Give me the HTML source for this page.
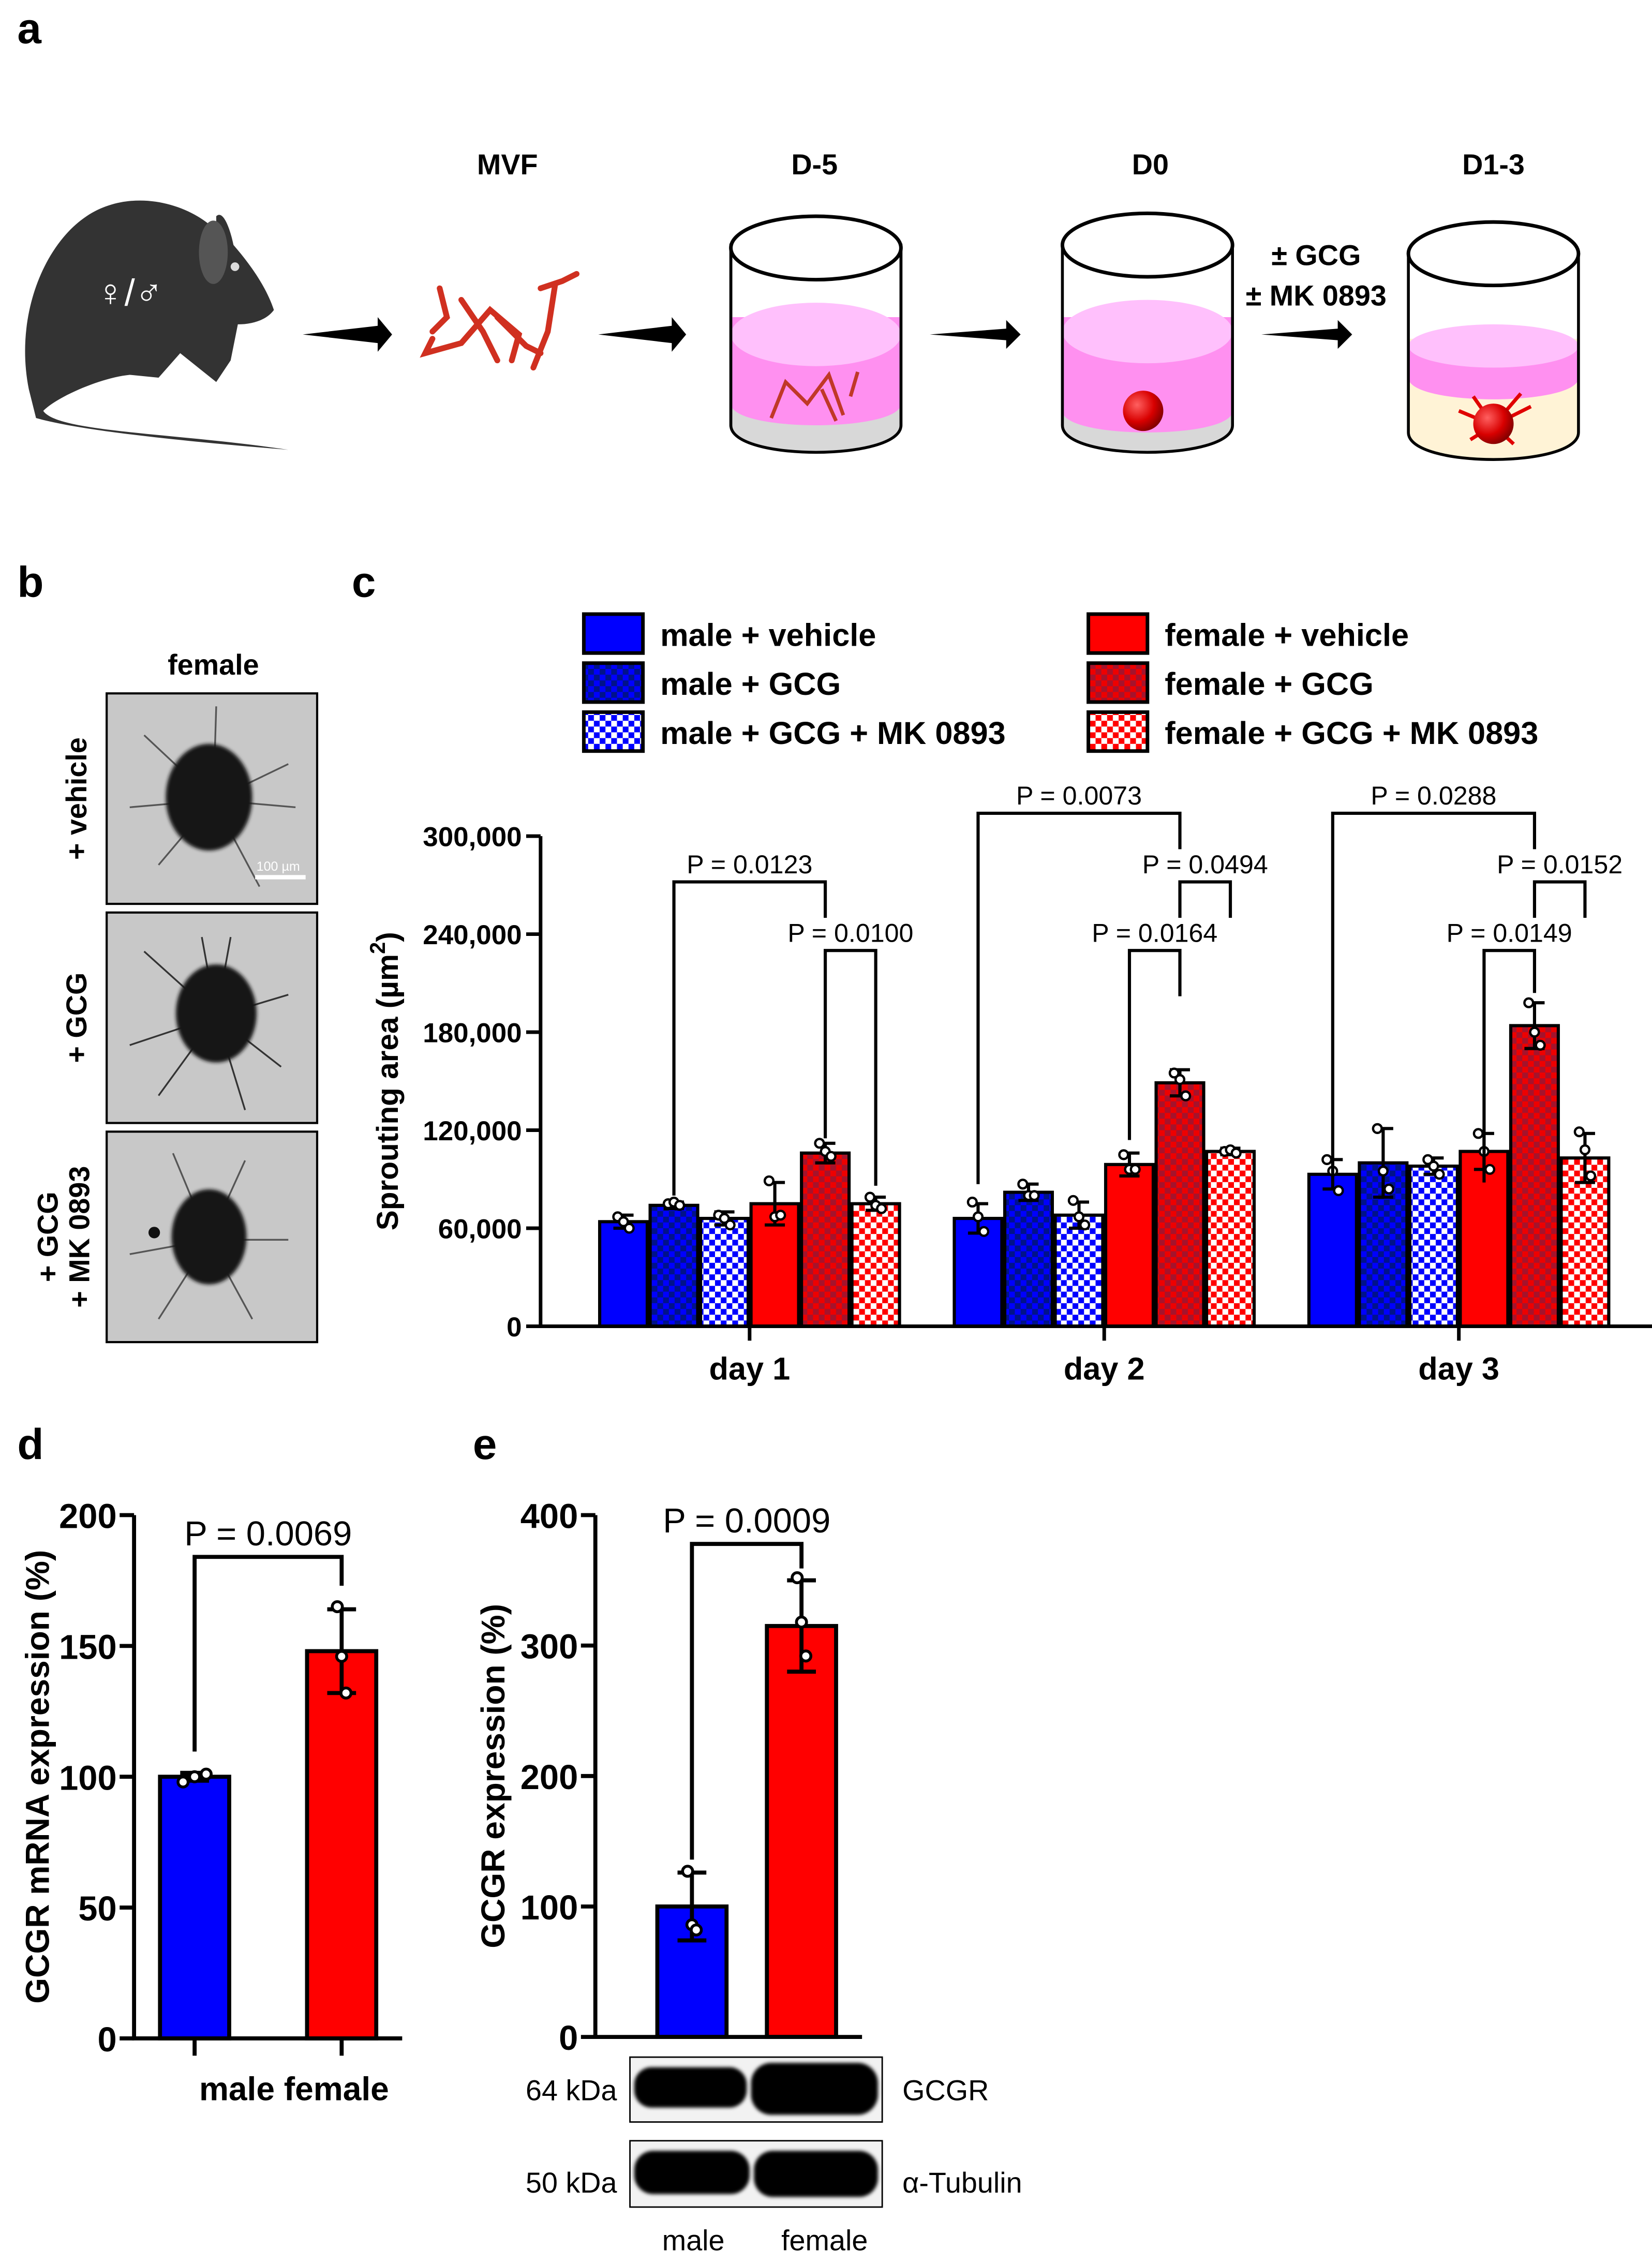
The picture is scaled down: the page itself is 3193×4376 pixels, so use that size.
<!DOCTYPE html>
<html><head><meta charset="utf-8">
<style>
html,body{margin:0;padding:0;background:#fff;}
svg{display:block;}
text{font-family:"Liberation Sans",Arial,sans-serif;}
.b{font-weight:bold;}
</style></head>
<body>
<svg id="fig" xmlns="http://www.w3.org/2000/svg" width="3193" height="4376" viewBox="0 0 1146 1570.5" preserveAspectRatio="none">
<defs>
<pattern id="pBlueDark" width="8" height="8" patternUnits="userSpaceOnUse"><rect width="8" height="8" fill="#0000ff"/><rect width="4" height="4" fill="#00128a"/><rect x="4" y="4" width="4" height="4" fill="#00128a"/></pattern>
<pattern id="pBlueWhite" width="8" height="8" patternUnits="userSpaceOnUse"><rect width="8" height="8" fill="#fff"/><rect width="4" height="4" fill="#0000ff"/><rect x="4" y="4" width="4" height="4" fill="#0000ff"/></pattern>
<pattern id="pRedDark" width="8" height="8" patternUnits="userSpaceOnUse"><rect width="8" height="8" fill="#ee0000"/><rect width="4" height="4" fill="#a5132c"/><rect x="4" y="4" width="4" height="4" fill="#a5132c"/></pattern>
<pattern id="pRedWhite" width="8" height="8" patternUnits="userSpaceOnUse"><rect width="8" height="8" fill="#fff"/><rect width="4" height="4" fill="#ff0000"/><rect x="4" y="4" width="4" height="4" fill="#ff0000"/></pattern>
<radialGradient id="sph" cx="0.35" cy="0.35" r="0.7"><stop offset="0" stop-color="#ff6060"/><stop offset="0.6" stop-color="#d80000"/><stop offset="1" stop-color="#800000"/></radialGradient>
<filter id="blur"><feGaussianBlur stdDeviation="1.2"/></filter>
</defs>

<!-- panel labels -->
<text x="12" y="30" font-size="30" class="b">a</text>
<text x="12" y="414" font-size="30" class="b">b</text>
<text x="244" y="414" font-size="30" class="b">c</text>
<text x="12" y="1012" font-size="30" class="b">d</text>
<text x="328" y="1012" font-size="30" class="b">e</text>

<!-- Panel a schematic -->
<g>
<path d="M20,270 C10,220 30,170 60,150 C90,130 130,140 150,160 L150,150 C155,145 160,160 162,170 C175,185 185,200 190,215 C185,222 175,225 165,225 L160,250 L150,265 L125,245 L110,262 L90,260 C70,262 40,275 30,285 C40,300 120,300 200,312 C150,308 60,300 25,290 Z" fill="#333"/>
<ellipse cx="148" cy="175" rx="10" ry="22" fill="#555"/>
<circle cx="163" cy="185" r="3" fill="#ddd"/>
<text x="90" y="212" font-size="26" fill="#fff" text-anchor="middle">♀/♂</text>
</g>
<g>
<text x="352" y="121" font-size="20" class="b" text-anchor="middle">MVF</text>
<text x="565" y="121" font-size="20" class="b" text-anchor="middle">D-5</text>
<text x="798" y="121" font-size="20" class="b" text-anchor="middle">D0</text>
<text x="1036" y="121" font-size="20" class="b" text-anchor="middle">D1-3</text>
<text x="913" y="184" font-size="20" class="b" text-anchor="middle">± GCG</text>
<text x="913" y="212" font-size="20" class="b" text-anchor="middle">± MK 0893</text>
</g>
<g fill="#000">
<path d="M210,232 L262,226 L262,220 L272,232 L262,244 L262,238 Z"/>
<path d="M415,232 L466,226 L466,220 L476,232 L466,244 L466,238 Z"/>
<path d="M645,232 L698,228 L698,222 L708,232 L698,242 L698,236 Z"/>
<path d="M875,232 L928,228 L928,222 L938,232 L928,242 L928,236 Z"/>
</g>
<g stroke="#d03020" stroke-width="4" fill="none" stroke-linecap="round">
<path d="M300,235 L295,245 L320,238 L340,215 L360,232 L355,250"/>
<path d="M305,200 L310,220 L300,230"/><path d="M320,208 L335,230 L345,250"/>
<path d="M385,198 L380,230 L370,255"/><path d="M375,200 L390,195 L400,190"/>
<path d="M345,220 L365,240 L375,245"/>
</g>
<g>
<rect x="507" y="170" width="118" height="125" fill="#fff" stroke="#000" stroke-width="2"/>
<path d="M507,220 L625,220 L625,295 C625,320 507,320 507,295 Z" fill="#ff90f0"/>
<path d="M507,280 L625,280 L625,295 C625,320 507,320 507,295 Z" fill="#d8d8d8"/>
<path d="M507,280 C507,300 625,300 625,280 L625,270 L507,270Z" fill="#ff90f0"/>
<ellipse cx="566" cy="232" rx="59" ry="22" fill="#ffc0fc"/>
<path d="M507,170 L507,295 C507,320 625,320 625,295 L625,170" fill="none" stroke="#000" stroke-width="2"/>
<ellipse cx="566" cy="172" rx="59" ry="22" fill="#fff" stroke="#000" stroke-width="2.5"/>
<path d="M535,290 L545,265 L560,280 L575,260 L585,288 M595,258 L590,275 M570,270 L580,292" stroke="#c03828" stroke-width="2.5" fill="none"/>
</g>
<g>
<rect x="737" y="170" width="118" height="125" fill="#fff"/>
<path d="M737,220 L855,220 L855,295 C855,320 737,320 737,295 Z" fill="#ff90f0"/>
<path d="M737,285 L855,285 L855,295 C855,320 737,320 737,295 Z" fill="#d8d8d8"/>
<path d="M737,285 C737,305 855,305 855,285 L855,270 L737,270Z" fill="#ff90f0"/>
<ellipse cx="796" cy="230" rx="59" ry="22" fill="#ffc0fc"/>
<path d="M737,170 L737,295 C737,320 855,320 855,295 L855,170" fill="none" stroke="#000" stroke-width="2"/>
<ellipse cx="796" cy="170" rx="59" ry="22" fill="#fff" stroke="#000" stroke-width="2.5"/>
<ellipse cx="793" cy="285" rx="14" ry="14" fill="url(#sph)"/>
</g>
<g>
<rect x="977" y="175" width="118" height="125" fill="#fff"/>
<path d="M977,235 L1095,235 L1095,300 C1095,325 977,325 977,300 Z" fill="#fff3d6"/>
<path d="M977,240 L1095,240 L1095,262 C1095,282 977,282 977,262 Z" fill="#ff90f0"/>
<ellipse cx="1036" cy="240" rx="59" ry="15" fill="#ffc0fc"/>
<path d="M977,175 L977,300 C977,325 1095,325 1095,300 L1095,175" fill="none" stroke="#000" stroke-width="2"/>
<ellipse cx="1036" cy="176" rx="59" ry="22" fill="#fff" stroke="#000" stroke-width="2.5"/>
<path d="M1036,295 L1020,305 M1036,295 L1050,308 M1036,295 L1012,285 M1036,295 L1062,282 M1036,295 L1022,275 M1036,295 L1055,273" stroke="#e00000" stroke-width="2.5"/>
<circle cx="1036" cy="294" r="14" fill="url(#sph)"/>
</g>

<!-- Panel b -->
<text x="148" y="468" font-size="20" class="b" text-anchor="middle">female</text>
<g>
<rect x="74" y="481" width="146" height="146" fill="#c8c8c8" stroke="#000" stroke-width="1.5"/>
<g stroke="#555" stroke-width="1.2"><path d="M148,555 L100,510 M148,555 L200,530 M148,555 L110,600 M148,555 L180,615 M148,555 L205,560 M148,555 L150,490 M148,555 L90,560"/></g>
<ellipse cx="145" cy="553" rx="30" ry="37" fill="#151515" filter="url(#blur)"/>
<text x="193" y="604" font-size="9" fill="#fff" text-anchor="middle">100 µm</text>
<rect x="177" y="607" width="35" height="3" fill="#fff"/>
</g>
<g>
<rect x="74" y="633" width="146" height="146" fill="#c8c8c8" stroke="#000" stroke-width="1.5"/>
<g stroke="#333" stroke-width="1.2"><path d="M150,705 L100,660 M150,705 L160,650 M150,705 L90,725 M150,705 L110,760 M150,705 L170,770 M150,705 L200,690 M150,705 L195,740 M150,705 L140,650"/></g>
<ellipse cx="150" cy="703" rx="28" ry="34" fill="#151515" filter="url(#blur)"/>
</g>
<g>
<rect x="74" y="785" width="146" height="146" fill="#c8c8c8" stroke="#000" stroke-width="1.5"/>
<g stroke="#555" stroke-width="1.2"><path d="M145,860 L120,800 M145,860 L170,805 M145,860 L90,870 M145,860 L110,915 M145,860 L175,915 M145,860 L200,860"/></g>
<ellipse cx="145" cy="858" rx="26" ry="33" fill="#151515" filter="url(#blur)"/>
<circle cx="107" cy="855" r="4" fill="#111"/>
</g>
<g font-size="20" class="b">
<text transform="translate(60,554) rotate(-90)" text-anchor="middle" class="b">+ vehicle</text>
<text transform="translate(60,706) rotate(-90)" text-anchor="middle" class="b">+ GCG</text>
<text transform="translate(40,858) rotate(-90)" text-anchor="middle" class="b">+ GCG</text>
<text transform="translate(62,858) rotate(-90)" text-anchor="middle" class="b">+ MK 0893</text>
</g>

<g id="legend"></g>
<g id="chartC"></g>
<g id="chartD"></g>
<g id="chartE"></g>

<!-- western blot -->
<g>
<rect x="437" y="1427" width="175" height="45" fill="#f2f2f2" stroke="#000" stroke-width="1"/>
<rect x="440" y="1434" width="78" height="28" rx="12" fill="#000" filter="url(#blur)"/>
<rect x="521" y="1431" width="88" height="36" rx="14" fill="#000" filter="url(#blur)"/>
<rect x="437" y="1485" width="175" height="46" fill="#f2f2f2" stroke="#000" stroke-width="1"/>
<rect x="440" y="1492" width="80" height="30" rx="13" fill="#000" filter="url(#blur)"/>
<rect x="523" y="1492" width="86" height="32" rx="13" fill="#000" filter="url(#blur)"/>
<text x="428" y="1457" font-size="20" text-anchor="end">64 kDa</text>
<text x="428" y="1521" font-size="20" text-anchor="end">50 kDa</text>
<text x="626" y="1457" font-size="20">GCGR</text>
<text x="626" y="1521" font-size="20">α-Tubulin</text>
<text x="481" y="1561" font-size="20" text-anchor="middle">male</text>
<text x="572" y="1561" font-size="20" text-anchor="middle">female</text>
</g>
</svg>

<script>
const NS="http://www.w3.org/2000/svg";
// ---- Panel c data ----
const days=["day 1","day 2","day 3"];
const groups=["male + vehicle","male + GCG","male + GCG + MK 0893","female + vehicle","female + GCG","female + GCG + MK 0893"];
const meansDay1=[64000,74000,66000,75000,106000,75000];
const meansDay2=[66000,82000,68000,99000,149000,107000];
const meansDay3=[93000,100000,98000,107000,184000,103000];
const sdDay1=[4000,2000,4000,13000,6000,4000];
const sdDay2=[9000,5000,8000,7000,8000,2000];
const sdDay3=[9000,21000,5000,11000,14000,15000];
const ptsDay1=[[67000,64000,60000],[75000,76000,74000],[68000,66000,62000],[89000,67000,68000],[112000,107000,104000],[79000,74000,72000]];
const ptsDay2=[[76000,67000,58000],[87000,80000,80000],[77000,67000,62000],[105000,96000,96000],[155000,151000,141000],[107000,108000,106000]];
const ptsDay3=[[102000,95000,83000],[121000,95000,84000],[102000,98000,93000],[118000,107000,96000],[198000,180000,172000],[119000,108000,92000]];
const yTicksC=[0,60000,120000,180000,240000,300000];
const yTickLabelsC=["0","60,000","120,000","180,000","240,000","300,000"];
const bracketsC=[[0,1,4,"P = 0.0123",272000,80000,250000],[0,4,5,"P = 0.0100",230000,115000,86000],
 [1,0,4,"P = 0.0073",314000,87000,292000],[1,4,5,"P = 0.0494",272000,250000,250000],[1,3,4,"P = 0.0164",230000,114000,202000],
 [2,0,4,"P = 0.0288",314000,92000,292000],[2,4,5,"P = 0.0152",272000,250000,250000],[2,3,4,"P = 0.0149",230000,88000,204000]];
const fills=["#0000ff","url(#pBlueDark)","url(#pBlueWhite)","#ff0000","url(#pRedDark)","url(#pRedWhite)"];

// ---- Panel d data ----
const catsD=["male","female"];
const meansD=[100,148];
const sdD=[1.5,16];
const ptsD=[[98,100,101],[165,146,132]];
const yTicksD=[0,50,100,150,200];
// ---- Panel e data ----
const catsE=["male","female"];
const meansE=[100,315];
const sdE=[26,35];
const ptsE=[[127,86,82],[352,318,292]];
const yTicksE=[0,100,200,300,400];

function el(tag,attrs,parent,txt){const e=document.createElementNS(NS,tag);for(const k in attrs)e.setAttribute(k,attrs[k]);if(txt!==undefined)e.textContent=txt;parent.appendChild(e);return e;}

const leg=document.getElementById('legend');
groups.forEach((g,i)=>{
  const col=Math.floor(i/3),row=i%3;
  const x=col?755:405,y=426+row*34;
  const r=el('rect',{x:x,y:y,width:41,height:27,fill:fills[i],stroke:'#000','stroke-width':2.5},leg);
  
  
  const t=el('text',{x:x+53,y:y+22,'font-size':22,'font-weight':'bold'},leg,g);
  
  
});

const C=document.getElementById('chartC');
const yC=v=>920-(v/300000)*340;
const centersC=[520,766,1012];
const barW=35;
const xBar=(d,i)=>centersC[d]-105+i*barW;
const allMeans=[meansDay1,meansDay2,meansDay3],allSd=[sdDay1,sdDay2,sdDay3],allPts=[ptsDay1,ptsDay2,ptsDay3];
allMeans.forEach((ms,d)=>{
  ms.forEach((m,i)=>{
    const x=xBar(d,i);
    const b=el('rect',{x:x+1,y:yC(m),width:barW-2,height:920-yC(m),fill:fills[i],stroke:'#000','stroke-width':2.2},C);
    
    
    const cx=x+barW/2,s=allSd[d][i];
    const e=el('path',{d:`M${cx},${yC(m-s)}V${yC(m+s)}M${cx-7},${yC(m+s)}H${cx+7}M${cx-7},${yC(m-s)}H${cx+7}`,stroke:'#000','stroke-width':2.2,fill:'none'},C);
    
    
    allPts[d][i].forEach((p,k)=>{
      const c=el('circle',{cx:cx+(k-1)*4,cy:yC(p),r:3,fill:'#fff',stroke:'#000','stroke-width':1.6},C);
      
      
    });
  });
  const tk=el('line',{x1:centersC[d],x2:centersC[d],y1:920,y2:930,stroke:'#000','stroke-width':2.5},C);
  
  
  const tl=el('text',{x:centersC[d],y:957,'font-size':22,'font-weight':'bold','text-anchor':'middle'},C,days[d]);
  
  
});
const axC=el('path',{d:'M375,580V920H1146',stroke:'#000','stroke-width':2.5,fill:'none'},C);


yTicksC.forEach((v,i)=>{
  const l=el('line',{x1:365,x2:375,y1:yC(v),y2:yC(v),stroke:'#000','stroke-width':2.5},C);
  
  
  const t=el('text',{x:362,y:yC(v)+7,'font-size':19,'font-weight':'bold','text-anchor':'end'},C,yTickLabelsC[i]);
  
  
});
const ytC=el('text',{transform:'translate(276,750) rotate(-90)','font-size':21,'font-weight':'bold','text-anchor':'middle'},C);


ytC.innerHTML='Sprouting area (µm<tspan dy="-9" font-size="15">2</tspan><tspan dy="9">)</tspan>';
bracketsC.forEach(b=>{
  const [d,a,c,lab,top,la,lb]=b;
  const xa=xBar(d,a)+barW/2,xb=xBar(d,c)+barW/2;
  const p=el('path',{d:`M${xa},${yC(la)}V${yC(top)}H${xb}V${yC(lb)}`,stroke:'#000','stroke-width':2.2,fill:'none'},C);
  
  
  const t=el('text',{x:(xa+xb)/2,y:yC(top)-6,'font-size':18,'text-anchor':'middle'},C,lab);
  
  
});

function twoBar(gid,axX,y0,yTop,maxV,ticks,cats,means,sds,pts,centers,bw,title,titleX,catLabels){
  const G=document.getElementById(gid);
  const y=v=>y0-(v/maxV)*(y0-yTop);
  const cols=['#0000ff','#ff0000'];
  means.forEach((m,i)=>{
    const cx=centers[i];
    const r=el('rect',{x:cx-bw/2,y:y(m),width:bw,height:y0-y(m),fill:cols[i],stroke:'#000','stroke-width':2.8},G);
    
    
    const s=sds[i];
    const e=el('path',{d:`M${cx},${y(m-s)}V${y(m+s)}M${cx-10},${y(m+s)}H${cx+10}M${cx-10},${y(m-s)}H${cx+10}`,stroke:'#000','stroke-width':2.8,fill:'none'},G);
    
    
    pts[i].forEach((p,k)=>{
      const c=el('circle',{cx:cx+(k-1)*(i===0&&gid==='chartD'?8:3),cy:y(p),r:3.5,fill:'#fff',stroke:'#000','stroke-width':2},G);
      
      
    });
  });
  const ax=el('path',{d:`M${axX},${yTop}V${y0}H${centers[1]+bw/2+18}`,stroke:'#000','stroke-width':2.8,fill:'none'},G);
  
  
  ticks.forEach(v=>{
    const l=el('line',{x1:axX-10,x2:axX,y1:y(v),y2:y(v),stroke:'#000','stroke-width':2.8},G);
    
    
    const t=el('text',{x:axX-12,y:y(v)+9,'font-size':24,'font-weight':'bold','text-anchor':'end'},G,String(v));
    
    
  });
  if(catLabels){centers.forEach(cx=>{const l=el('line',{x1:cx,x2:cx,y1:y0,y2:y0+12,stroke:'#000','stroke-width':2.8},G);
    
    });
    const t=el('text',{x:204,y:y0+43,'font-size':23,'font-weight':'bold','text-anchor':'middle'},G,cats.join(' '));
    
    }
  const yt=el('text',{transform:`translate(${titleX},${(y0+yTop)/2}) rotate(-90)`,'font-size':23,'font-weight':'bold','text-anchor':'middle'},G,title);
  
  
  return y;
}
twoBar('chartD',93,1414,1051,200,yTicksD,catsD,meansD,sdD,ptsD,[135,237],48,'GCGR mRNA expression (%)',34,true);
twoBar('chartE',413,1413,1051,400,yTicksE,catsE,meansE,sdE,ptsE,[480,556],48,'GCGR expression (%)',350,false);
const bD=[135,237,"P = 0.0069",1080,1215,1100];
const bE=[480,556,"P = 0.0009",1071,1290,1088];
[[bD,'chartD'],[bE,'chartE']].forEach(([b,g])=>{
  const G=document.getElementById(g);
  const p=el('path',{d:`M${b[0]},${b[4]}V${b[3]}H${b[1]}V${b[5]}`,stroke:'#000','stroke-width':2.8,fill:'none'},G);
  
  
  const t=el('text',{x:(b[0]+b[1])/2,y:b[3]-8,'font-size':24,'text-anchor':'middle'},G,b[2]);
  
  
});
</script>
</body></html>
